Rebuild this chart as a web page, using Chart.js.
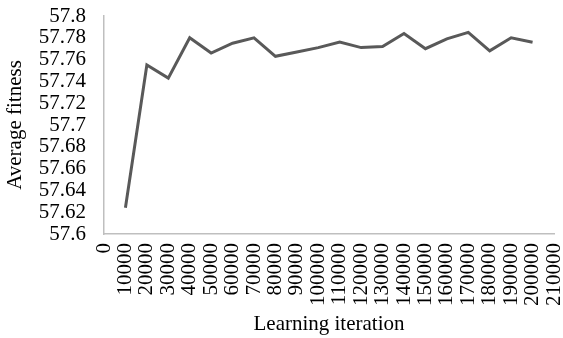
<!DOCTYPE html>
<html>
<head>
<meta charset="utf-8">
<script src="https://cdn.jsdelivr.net/npm/chart.js@4/dist/chart.umd.min.js"></script>
<style>
  html, body { margin: 0; padding: 0; background: #ffffff; }
  #wrap { width: 563px; height: 338px; position: relative; }
</style>
</head>
<body>
<div id="wrap"><canvas id="c" width="563" height="338"></canvas></div>
<script>
const iterations = ['0','10000','20000','30000','40000','50000','60000','70000','80000','90000','100000','110000','120000','130000','140000','150000','160000','170000','180000','190000','200000','210000'];
const averageFitness = [null, 57.624, 57.755, 57.743, 57.780, 57.766, 57.775, 57.780, 57.763, 57.767, 57.771, 57.776, 57.771, 57.772, 57.784, 57.770, 57.779, 57.785, 57.768, 57.780, 57.776, null];
const yMin = 57.6, yMax = 57.8, yStep = 0.02;
const xTitle = 'Learning iteration';
const yTitle = 'Average fitness';

const font = { family: '"Liberation Serif", "Times New Roman", serif', size: 21 };
const axisColor = '#bfbfbf';
const textColor = '#000000';

new Chart(document.getElementById('c'), {
  type: 'line',
  data: {
    labels: iterations,
    datasets: [{
      data: averageFitness,
      borderColor: '#595959',
      borderWidth: 3,
      pointRadius: 0,
      tension: 0,
      fill: false,
      spanGaps: false
    }]
  },
  options: {
    responsive: false,
    animation: false,
    devicePixelRatio: 1,
    layout: { padding: { left: 0, right: 9, top: 16, bottom: 0 } },
    plugins: { legend: { display: false }, tooltip: { enabled: false } },
    scales: {
      x: {
        type: 'category',
        offset: false,
        grid: { drawOnChartArea: false, drawTicks: false },
        border: { display: true, color: axisColor, width: 1.5 },
        ticks: {
          autoSkip: false, maxRotation: 90, minRotation: 90,
          padding: 9, color: textColor, font: font
        },
        title: { display: true, text: xTitle, color: textColor, font: font, padding: { top: 0, bottom: 1 } },
        afterFit: s => { s.height = 104; s.paddingLeft = 0; s.paddingRight = 0; }
      },
      y: {
        min: yMin, max: yMax,
        grid: { drawOnChartArea: false, drawTicks: false },
        border: { display: true, color: axisColor, width: 1.5 },
        ticks: {
          stepSize: yStep, autoSkip: false, padding: 18, color: textColor, font: font,
          callback: v => String(parseFloat(Number(v).toFixed(2)))
        },
        title: { display: true, text: yTitle, color: textColor, font: font, padding: { top: 3, bottom: 0 } },
        afterFit: s => { s.width = 104; s.paddingTop = 0; s.paddingBottom = 0; }
      }
    }
  }
});
</script>
</body>
</html>
